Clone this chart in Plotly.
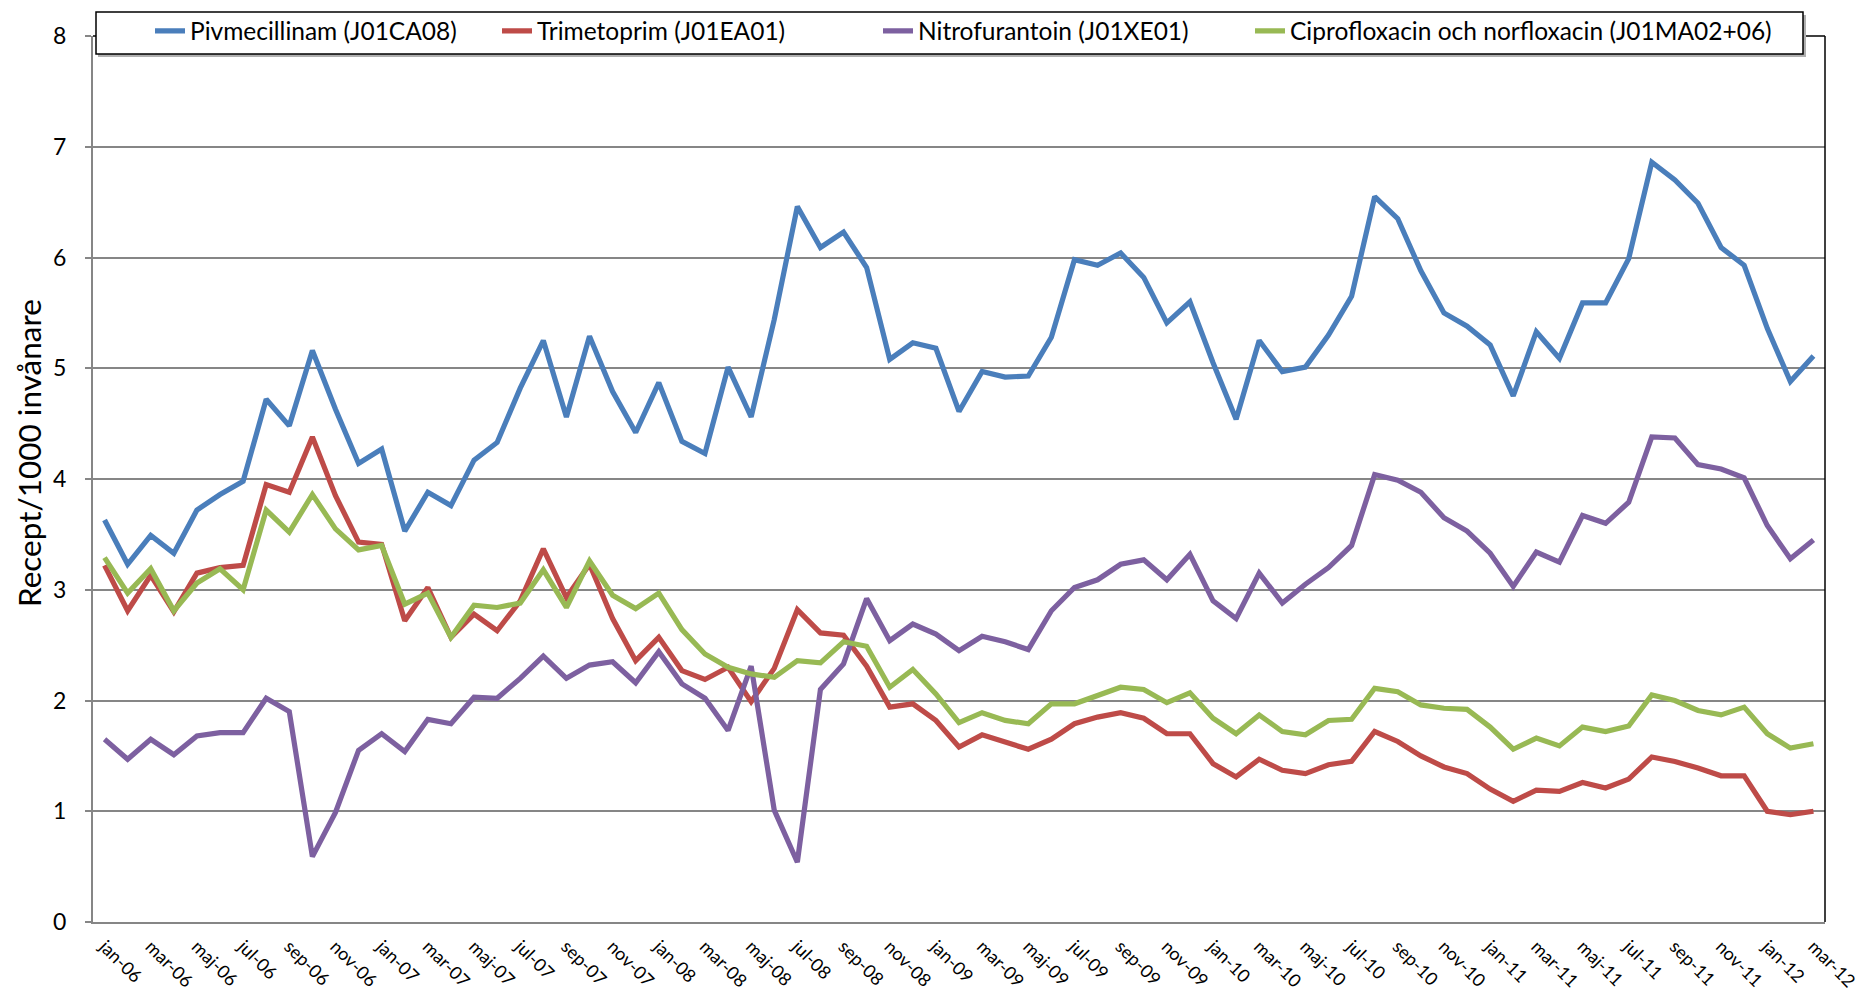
import plotly.graph_objects as go

# ---- data ----
month_abbr = ["jan", "feb", "mar", "apr", "maj", "jun", "jul", "aug", "sep", "okt", "nov", "dec"]
months = [f"{m}-{y:02d}" for y in range(6, 13) for m in month_abbr][:75]  # jan-06 .. mar-12

pivmecillinam = [
    3.63, 3.23, 3.49, 3.33, 3.72, 3.86, 3.98, 4.72, 4.48, 5.16, 4.63, 4.14,
    4.27, 3.53, 3.88, 3.76, 4.17, 4.33, 4.82, 5.25, 4.56, 5.29, 4.79, 4.42,
    4.87, 4.34, 4.23, 5.01, 4.56, 5.44, 6.46, 6.09, 6.23, 5.91, 5.08, 5.23,
    5.18, 4.61, 4.97, 4.92, 4.93, 5.28, 5.98, 5.93, 6.04, 5.82, 5.41, 5.60,
    5.05, 4.54, 5.25, 4.97, 5.01, 5.30, 5.65, 6.55, 6.35, 5.88, 5.50, 5.38,
    5.21, 4.75, 5.33, 5.09, 5.59, 5.59, 5.99, 6.86, 6.70, 6.49, 6.09, 5.93,
    5.36, 4.88, 5.11,
]
trimetoprim = [
    3.22, 2.81, 3.13, 2.80, 3.15, 3.20, 3.22, 3.95, 3.88, 4.38, 3.85, 3.43,
    3.41, 2.72, 3.02, 2.57, 2.78, 2.63, 2.90, 3.37, 2.93, 3.23, 2.74, 2.36,
    2.57, 2.27, 2.19, 2.30, 1.99, 2.29, 2.82, 2.61, 2.59, 2.31, 1.94, 1.97,
    1.82, 1.58, 1.69, 1.62, 1.56, 1.65, 1.79, 1.85, 1.89, 1.84, 1.70, 1.70,
    1.43, 1.31, 1.47, 1.37, 1.34, 1.42, 1.45, 1.72, 1.63, 1.50, 1.40, 1.34,
    1.20, 1.09, 1.19, 1.18, 1.26, 1.21, 1.29, 1.49, 1.45, 1.39, 1.32, 1.32,
    1.00, 0.97, 1.00,
]
nitrofurantoin = [
    1.65, 1.47, 1.65, 1.51, 1.68, 1.71, 1.71, 2.02, 1.90, 0.59, 0.99, 1.55,
    1.70, 1.54, 1.83, 1.79, 2.03, 2.02, 2.20, 2.40, 2.20, 2.32, 2.35, 2.16,
    2.44, 2.15, 2.02, 1.73, 2.31, 1.01, 0.54, 2.10, 2.33, 2.92, 2.54, 2.69,
    2.60, 2.45, 2.58, 2.53, 2.46, 2.81, 3.02, 3.09, 3.23, 3.27, 3.09, 3.32,
    2.90, 2.74, 3.15, 2.88, 3.05, 3.20, 3.40, 4.04, 3.99, 3.88, 3.65, 3.53,
    3.33, 3.03, 3.34, 3.25, 3.67, 3.60, 3.79, 4.38, 4.37, 4.13, 4.09, 4.01,
    3.58, 3.28, 3.45,
]
ciprofloxacin = [
    3.29, 2.97, 3.19, 2.81, 3.06, 3.19, 3.00, 3.72, 3.52, 3.86, 3.55, 3.36,
    3.40, 2.87, 2.97, 2.57, 2.86, 2.84, 2.88, 3.18, 2.84, 3.26, 2.95, 2.83,
    2.97, 2.64, 2.42, 2.30, 2.24, 2.21, 2.36, 2.34, 2.53, 2.49, 2.12, 2.28,
    2.06, 1.80, 1.89, 1.82, 1.79, 1.97, 1.97, 2.04, 2.12, 2.10, 1.98, 2.07,
    1.84, 1.70, 1.87, 1.72, 1.69, 1.82, 1.83, 2.11, 2.08, 1.96, 1.93, 1.92,
    1.76, 1.56, 1.66, 1.59, 1.76, 1.72, 1.77, 2.05, 2.00, 1.91, 1.87, 1.94,
    1.70, 1.57, 1.61,
]

series_names = [
    "Pivmecillinam (J01CA08)",
    "Trimetoprim (J01EA01)",
    "Nitrofurantoin (J01XE01)",
    "Ciprofloxacin och norfloxacin (J01MA02+06)",
]
series_values = [pivmecillinam, trimetoprim, nitrofurantoin, ciprofloxacin]
colors = ["#4A7EBB", "#BE4B48", "#7D60A0", "#98B954"]
y_ticks = [0, 1, 2, 3, 4, 5, 6, 7, 8]
x_tick_labels = months[::2]
y_title = "Recept/1000 invånare"

FONT = "Lato, Liberation Sans, sans-serif"
W, H = 1864, 996
OFF = 8  # page body margin offset
# plot area in viewport pixels: x 93..1825, y 36..922
ML, MT = 93 - OFF, 36 - OFF
MR, MB = W - (1825 - OFF), H - (922 - OFF)
PW, PH = W - ML - MR, H - MT - MB


def px_x(x):  # viewport px -> paper fraction
    return (x - OFF - ML) / PW


def px_y(y):
    return (H - MB - (y - OFF)) / PH


legend_keys = ["legend", "legend2", "legend3", "legend4"]
legend_x_px = [142, 489, 870, 1242]

fig = go.Figure()
x_idx = list(range(len(months)))
for i, (name, vals, col) in enumerate(zip(series_names, series_values, colors)):
    fig.add_trace(go.Scatter(
        x=x_idx, y=vals, name=name, mode="lines",
        line=dict(color=col, width=5.2),
        legend=legend_keys[i],
        hovertemplate="%{customdata}: %{y}<extra>" + name + "</extra>",
        customdata=months,
    ))

grey = "#868686"
layout_legends = {}
for i, key in enumerate(legend_keys):
    layout_legends[key] = dict(
        x=legend_x_px[i] / W, xref="container", xanchor="left",
        y=1 - 23 / H, yref="container", yanchor="middle",
        orientation="h", bgcolor="rgba(0,0,0,0)", borderwidth=0,
        font=dict(family=FONT, size=24.5, color="#000000"),
    )

fig.update_layout(
    width=W, height=H,
    margin=dict(l=ML, r=MR, t=MT, b=MB, autoexpand=False),
    paper_bgcolor="white", plot_bgcolor="white",
    showlegend=True,
    xaxis=dict(
        range=[-0.5, len(months) - 0.5],
        tickvals=x_idx[::2], ticktext=x_tick_labels,
        tickangle=45, showgrid=False, zeroline=False,
        showline=True, linecolor=grey, linewidth=2,
        ticks="", ticklabelstandoff=5,
        tickfont=dict(family=FONT, size=18, color="#000000"),
    ),
    yaxis=dict(
        range=[0, 8], tickvals=y_ticks,
        showgrid=True, gridcolor=grey, gridwidth=1.6,
        zeroline=False, showline=True, linecolor=grey, linewidth=2,
        ticks="outside", ticklen=6, tickcolor=grey, tickwidth=1.5,
        ticklabelstandoff=14,
        tickfont=dict(family=FONT, size=23, color="#000000"),
    ),
    annotations=[
        dict(text=y_title, xref="paper", yref="paper",
             x=px_x(29), y=px_y(453), textangle=-90, showarrow=False,
             xanchor="center", yanchor="middle",
             font=dict(family=FONT, size=31.5, color="#000000")),
    ],
    shapes=[
        # plot area border (top/right in black)
        dict(type="line", xref="paper", yref="paper", x0=0, x1=1, y0=1, y1=1,
             line=dict(color="black", width=1.5)),
        dict(type="line", xref="paper", yref="paper", x0=1, x1=1, y0=0, y1=1,
             line=dict(color="black", width=1.5)),
        # legend box shadow + box
        dict(type="rect", xref="paper", yref="paper",
             x0=px_x(98), x1=px_x(1806), y0=px_y(57), y1=px_y(15),
             line=dict(width=0), fillcolor="#B0B0B0", layer="above"),
        dict(type="rect", xref="paper", yref="paper",
             x0=px_x(96), x1=px_x(1803), y0=px_y(54), y1=px_y(12),
             line=dict(color="black", width=1.5), fillcolor="white", layer="above"),
    ],
    **layout_legends,
)

fig.write_html("out.html")
